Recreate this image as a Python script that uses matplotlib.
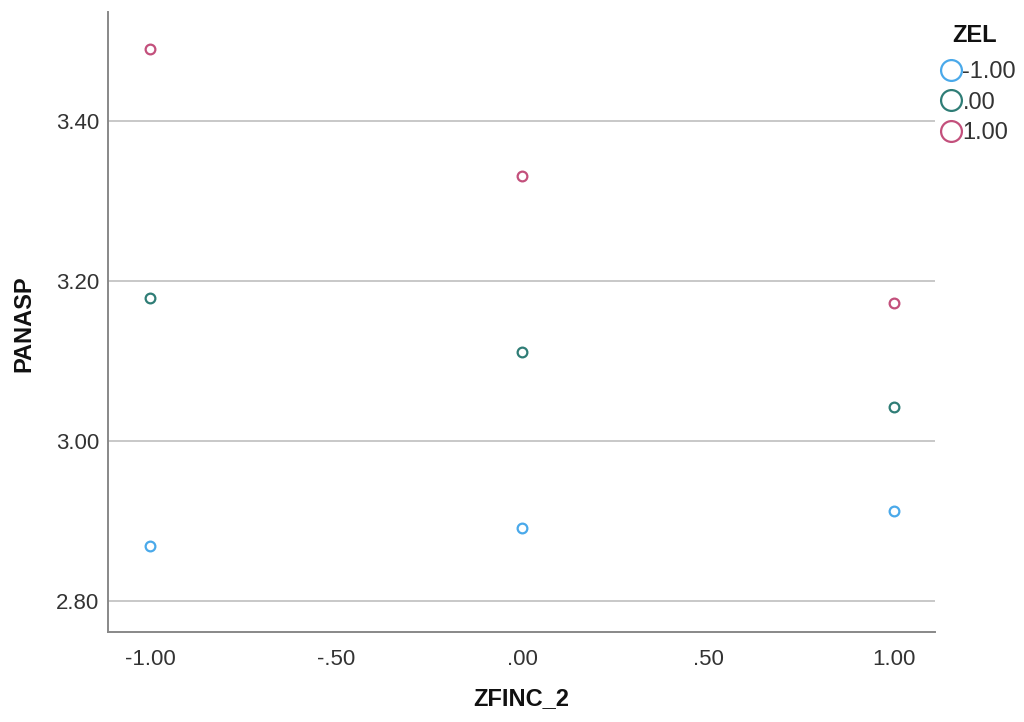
import matplotlib
matplotlib.use("Agg")
import matplotlib.pyplot as plt
from matplotlib.lines import Line2D

plt.rcParams['font.family'] = ['Liberation Sans', 'DejaVu Sans']

# Data
zfinc_levels = [-1.0, 0.0, 1.0]
zel_labels = ["-1.00", ".00", "1.00"]
panasp_zel_neg1 = [2.869, 2.891, 2.9125]
panasp_zel_0 = [3.179, 3.111, 3.0425]
panasp_zel_pos1 = [3.490, 3.331, 3.1725]
series_colors = ["#4aa9ea", "#2f7d76", "#c3507c"]

x_ticks = [-1.0, -0.5, 0.0, 0.5, 1.0]
x_tick_labels = ["-1.00", "-.50", ".00", ".50", "1.00"]
y_ticks = [2.80, 3.00, 3.20, 3.40]
y_tick_labels = ["2.80", "3.00", "3.20", "3.40"]

fig = plt.figure(figsize=(10.24, 7.22), dpi=100)
ax = fig.add_axes([0.1055, 0.1247, 0.8075, 0.8587])

for vals, col in zip([panasp_zel_neg1, panasp_zel_0, panasp_zel_pos1], series_colors):
    ax.plot(zfinc_levels, vals, linestyle="none", marker="o", markersize=7,
            markerfacecolor="none", markeredgecolor=col, markeredgewidth=1.6,
            zorder=3)

ax.set_xlim(-1.113, 1.110)
ax.set_ylim(2.761, 3.536)
ax.set_xticks(x_ticks)
ax.set_xticklabels(x_tick_labels)
ax.set_yticks(y_ticks)
ax.set_yticklabels(y_tick_labels)
ax.tick_params(length=0, labelsize=16, labelcolor="#333333")
ax.tick_params(axis="y", pad=6.5)
ax.tick_params(axis="x", pad=12.5)

ax.grid(axis="y", color="#c8c8c8", linewidth=1.4)
ax.set_axisbelow(True)
for s in ["top", "right"]:
    ax.spines[s].set_visible(False)
for s in ["left", "bottom"]:
    ax.spines[s].set_color("#888888")
    ax.spines[s].set_linewidth(1.4)

fig.text(0.0235, 0.551, "PANASP", rotation=90, ha="center", va="center",
         fontsize=17, fontweight="bold", color="#111111")
fig.text(0.509, 0.032, "ZFINC_2", ha="center", va="center",
         fontsize=17, fontweight="bold", color="#111111")

# Legend: title placed above the marker entries
fig.text(0.952, 0.9515, "ZEL", ha="center", va="center",
         fontsize=17, fontweight="bold", color="#111111")
handles = [Line2D([], [], linestyle="none", marker="o", markersize=15,
                  markerfacecolor="none", markeredgecolor=c, markeredgewidth=1.6)
           for c in series_colors]
leg = fig.legend(handles, zel_labels, loc="upper left",
                 bbox_to_anchor=(0.918, 0.9155), frameon=False,
                 fontsize=17, handlelength=0.9, handletextpad=0.05,
                 labelspacing=0.37, borderpad=0, borderaxespad=0)
for t in leg.get_texts():
    t.set_color("#333333")

fig.savefig("out.png", dpi=100)
